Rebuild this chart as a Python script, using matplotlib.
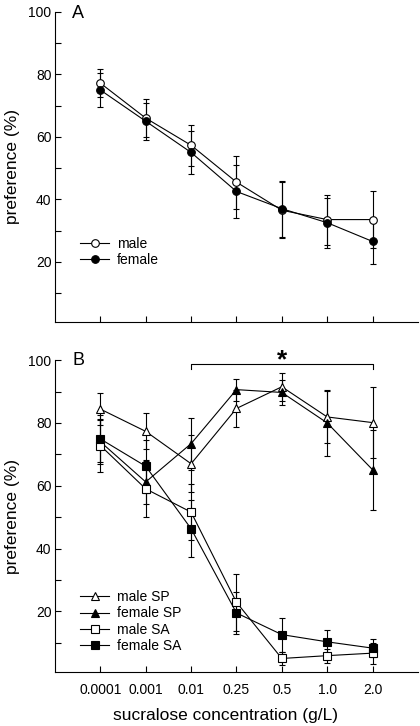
import matplotlib
matplotlib.use("Agg")
import matplotlib.pyplot as plt

plt.rcParams['font.family'] = ['Liberation Sans', 'DejaVu Sans']

# concentrations (categorical x positions)
conc_labels = ["0.0001", "0.001", "0.01", "0.25", "0.5", "1.0", "2.0"]

# panel A
male_a = [77.2, 66.0, 57.3, 45.5, 36.5, 33.5, 33.5]
male_a_err = [4.5, 6.0, 6.5, 8.5, 9.0, 8.0, 9.0]
female_a = [75.0, 65.0, 55.0, 42.5, 37.0, 32.5, 26.5]
female_a_err = [5.5, 6.0, 7.0, 8.5, 9.0, 8.0, 7.2]

# panel B
male_sp = [84.4, 77.3, 67.0, 84.6, 91.5, 81.9, 80.1]
male_sp_err = [5.2, 5.7, 9.0, 6.0, 4.5, 8.3, 11.2]
female_sp = [74.0, 61.2, 73.4, 90.6, 89.7, 80.0, 65.1]
female_sp_err = [7.0, 7.0, 8.3, 3.5, 4.0, 10.5, 12.7]
male_sa = [72.8, 59.0, 51.6, 22.9, 5.0, 5.9, 6.7]
male_sa_err = [8.5, 9.0, 9.0, 9.0, 2.0, 2.2, 3.3]
female_sa = [74.9, 66.2, 46.3, 19.5, 12.6, 10.3, 8.3]
female_sa_err = [7.5, 8.5, 9.0, 6.7, 5.4, 3.7, 2.9]

x = list(range(len(conc_labels)))

fig = plt.figure(figsize=(4.2, 7.26), dpi=100)
ax_a = fig.add_axes([0.131, 0.5565, 0.864, 0.427])
ax_b = fig.add_axes([0.131, 0.0744, 0.864, 0.4296])

def style_axis(ax):
    ax.spines['top'].set_visible(False)
    ax.spines['right'].set_visible(False)
    ax.spines['left'].set_linewidth(0.8)
    ax.spines['bottom'].set_linewidth(0.8)
    ax.set_xlim(-1, 7)
    ax.set_ylim(0.7, 100)
    ax.set_yticks([20, 40, 60, 80, 100])
    ax.set_yticks([10, 30, 50, 70, 90], minor=True)
    ax.set_xticks(x)
    ax.tick_params(axis='y', direction='in', length=4, width=0.8, labelsize=10, pad=2.5)
    ax.tick_params(axis='x', direction='in', length=4, width=0.8, labelsize=10, pad=8)
    ax.tick_params(which='minor', direction='in', length=4, width=0.8)
    ax.set_ylabel("preference (%)", fontsize=12.5)
    ax.yaxis.set_label_coords(-0.118, 0.5)
    ax.yaxis.label.set_verticalalignment('center')

def series(ax, y, err, marker, face, label):
    ax.errorbar(x, y, yerr=err, fmt='none', ecolor='black', elinewidth=0.8,
                capsize=2.5, capthick=0.8, zorder=2)
    ax.plot(x, y, color='black', marker=marker, markersize=5.5,
            markerfacecolor=face, markeredgecolor='black', markeredgewidth=0.8,
            linewidth=0.8, label=label, zorder=3)

style_axis(ax_a)
series(ax_a, male_a, male_a_err, 'o', 'white', 'male')
series(ax_a, female_a, female_a_err, 'o', 'black', 'female')
ax_a.set_xticklabels([])
ax_a.text(0.047, 1.023, "A", transform=ax_a.transAxes, fontsize=13, va='top')
ax_a.legend(loc='center left', bbox_to_anchor=(0.069, 0.226), frameon=False, fontsize=10,
            handlelength=2.1, handletextpad=0.55, labelspacing=0.15,
            borderpad=0, borderaxespad=0)

style_axis(ax_b)
series(ax_b, male_sp, male_sp_err, '^', 'white', 'male SP')
series(ax_b, female_sp, female_sp_err, '^', 'black', 'female SP')
series(ax_b, male_sa, male_sa_err, 's', 'white', 'male SA')
series(ax_b, female_sa, female_sa_err, 's', 'black', 'female SA')
ax_b.set_xticklabels(conc_labels)
ax_b.set_xlabel("sucralose concentration (g/L)", fontsize=12.5)
ax_b.xaxis.set_label_coords(0.47, -0.141)
ax_b.xaxis.label.set_verticalalignment('center')
ax_b.text(0.047, 1.026, "B", transform=ax_b.transAxes, fontsize=13, va='top')
ax_b.legend(loc='center left', bbox_to_anchor=(0.069, 0.162), frameon=False, fontsize=10,
            handlelength=2.1, handletextpad=0.55, labelspacing=0.15,
            borderpad=0, borderaxespad=0)

# significance bracket
ax_b.plot([2, 2, 6, 6], [97.1, 98.7, 98.7, 97.1], color='black', linewidth=0.8, clip_on=False)
ax_b.text(4, 97.8, "*", ha='center', va='baseline', fontsize=19, fontweight='bold')

fig.savefig("out.png", dpi=100)
